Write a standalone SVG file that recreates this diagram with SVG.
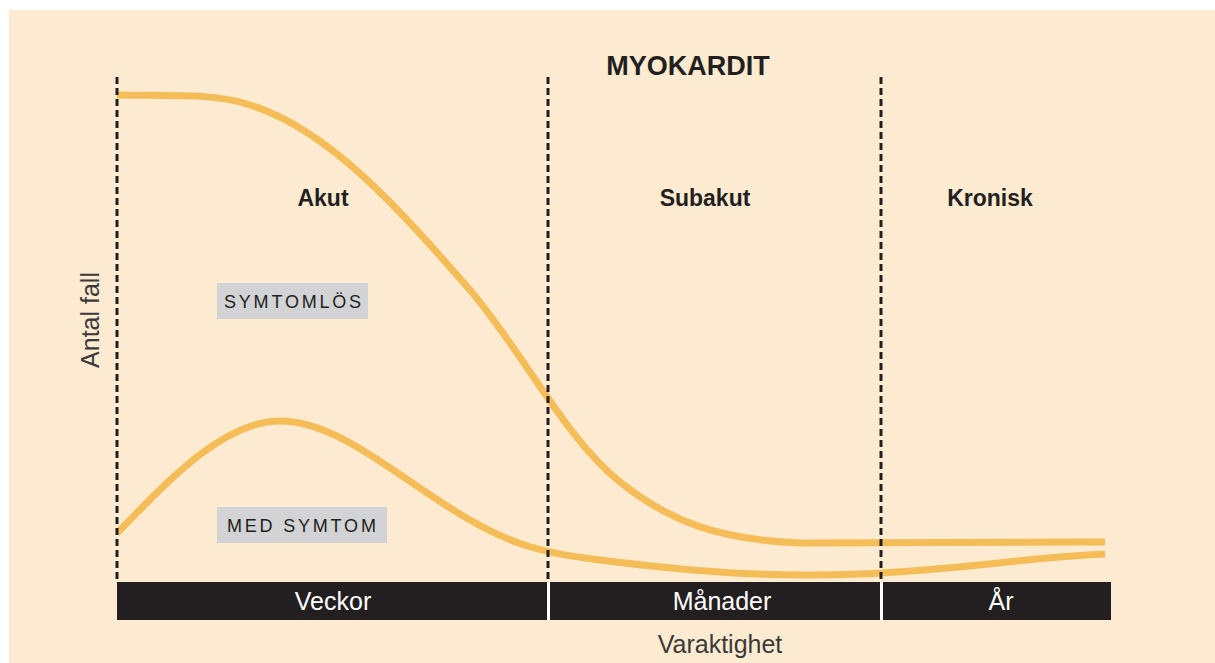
<svg xmlns="http://www.w3.org/2000/svg" width="1215" height="663" viewBox="0 0 1215 663">
<style>
.bg{fill:#FDEBD1}
.curve{fill:none;stroke:#F5BD58;stroke-width:7;stroke-linecap:butt}
.dash{stroke:#231F20;stroke-width:3;stroke-dasharray:7 4}
.phase{font-family:"Liberation Sans",Arial,sans-serif;font-weight:bold;font-size:23px;fill:#231F20;text-anchor:middle}
.tag{fill:#D1D3D4}
.tagtxt{font-family:"Liberation Sans",Arial,sans-serif;font-size:18px;letter-spacing:2.8px;fill:#231F20}
.bar{fill:#231F20}
.bartxt{font-family:"Liberation Sans",Arial,sans-serif;font-size:25px;fill:#FFFFFF;text-anchor:middle}
.axis{font-family:"Liberation Sans",Arial,sans-serif;font-size:25px;fill:#3A3A3A;text-anchor:middle}
</style>
<rect x="0" y="0" width="1215" height="663" fill="#FFFFFF"/>
<rect class="bg" x="9" y="10" width="1206" height="653"/>
<g id="title">
<text x="688" y="75" font-family="Liberation Sans, Arial, sans-serif" font-weight="bold" font-size="27" fill="#231F20" text-anchor="middle">MYOKARDIT</text>
</g>
<g id="curves">
<path class="curve" d="M117,95 C170,96 215,93 250,105 C330,130 400,210 470,290 C525,355 565,438 620,482 C670,522 720,540 800,543 L1105,542"/>
<path class="curve" d="M117,533 C160,490 220,421 280,421 C340,421 400,480 470,520 C510,543 540,553 600,560 C680,570 760,578 860,574 C960,570 1020,558 1105,554"/>
</g>
<g id="dividers">
<line class="dash" x1="117" y1="77" x2="117" y2="582"/>
<line class="dash" x1="548" y1="77" x2="548" y2="582"/>
<line class="dash" x1="881" y1="77" x2="881" y2="582"/>
</g>
<g id="phase-akut"><text class="phase" x="323" y="206">Akut</text></g>
<g id="phase-subakut"><text class="phase" x="705" y="206">Subakut</text></g>
<g id="phase-kronisk"><text class="phase" x="990" y="206">Kronisk</text></g>
<g id="label-symtomlos">
<rect class="tag" x="217" y="283" width="151" height="36"/>
<text class="tagtxt" x="224" y="308">SYMTOMLÖS</text>
</g>
<g id="label-medsymtom">
<rect class="tag" x="217" y="507" width="170" height="36"/>
<text class="tagtxt" x="227" y="532">MED SYMTOM</text>
</g>
<g id="timebar">
<rect class="bar" x="117" y="582" width="994" height="38"/>
<rect x="547" y="582" width="3" height="38" fill="#FFFFFF"/>
<rect x="880" y="582" width="3" height="38" fill="#FFFFFF"/>
<text class="bartxt" x="333" y="610">Veckor</text>
<text class="bartxt" x="722" y="610">Månader</text>
<text class="bartxt" x="1001" y="610">År</text>
</g>
<g id="axis-labels">
<text class="axis" x="720" y="653">Varaktighet</text>
<text class="axis" transform="translate(99,320) rotate(-90)">Antal fall</text>
</g>
</svg>
